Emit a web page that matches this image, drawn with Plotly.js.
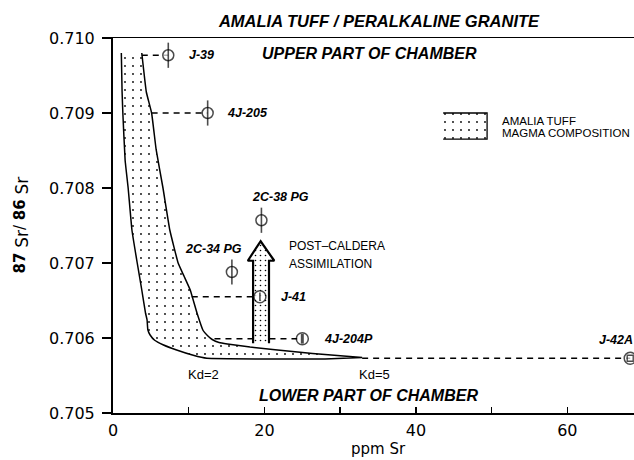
<!DOCTYPE html>
<html>
<head>
<meta charset="utf-8">
<script src="https://cdn.plot.ly/plotly-3.0.1.min.js"></script>
<style>
  html, body { margin: 0; padding: 0; background: #fff; }
  #chart { width: 634px; height: 460px; }
</style>
</head>
<body>
<div id="chart"></div>
<script>
// Amalia Tuff magma composition band: Kd=2 (lower/left) and Kd=5 (upper/right) boundaries
const kd2Sr    = [1.1, 1.2, 1.3, 1.6, 2.0, 2.5, 3.2, 3.8, 4.3, 4.5, 4.6, 4.9, 5.5, 6.6, 8.4, 10.6, 12.4, 20.0, 28.0, 32.9];
const kd2Ratio = [0.70980, 0.70928, 0.70900, 0.70837, 0.70800, 0.70744, 0.70700, 0.70664, 0.70633, 0.70624,
                  0.70611, 0.70604, 0.70597, 0.70591, 0.70584, 0.70577, 0.70573, 0.70572, 0.70572, 0.70574];
const kd5Sr    = [3.8, 4.4, 5.1, 5.7, 6.6, 7.5, 8.6, 9.4, 10.2, 11.1, 11.9, 12.5, 13.1, 14.0, 15.1, 18.1, 24.7, 28.0, 32.9];
const kd5Ratio = [0.70980, 0.70928, 0.70900, 0.70851, 0.70800, 0.70744, 0.70700, 0.70682, 0.70664, 0.70633,
                  0.70610, 0.70603, 0.70598, 0.70594, 0.70592, 0.70588, 0.70581, 0.70578, 0.70574];

// Samples
const sampleNames = ['J-39', '4J-205', '2C-38 PG', '2C-34 PG', 'J-41', '4J-204P', 'J-42A'];
const sampleSr    = [7.3, 12.5, 19.6, 15.7, 19.4, 25.0, 68.3];
const sampleRatio = [0.70977, 0.70900, 0.70757, 0.70688, 0.70655, 0.70599, 0.70573];

// Dashed tie lines: sample index and Sr where the line leaves the band
const tieSample = [0, 1, 4, 5, 6];
const tieFromSr = [3.8, 5.1, 10.4, 13.4, 32.9];

// Post-caldera assimilation arrow outline
const arrowSr    = [18.5, 18.5, 17.8, 19.5, 21.3, 20.6, 20.6];
const arrowRatio = [0.70593, 0.70703, 0.70703, 0.70729, 0.70703, 0.70703, 0.70593];

// Key swatch
const keySr    = [43.6, 49.4, 49.4, 43.6];
const keyRatio = [0.70900, 0.70900, 0.708653, 0.708653];

const yTickVals = [0.705, 0.706, 0.707, 0.708, 0.709, 0.710];

const dots = { shape: '.', size: 8, solidity: 0.04, fgcolor: '#000', bgcolor: '#fff', fillmode: 'replace' };

// band polygon: down the Kd=2 side, back up the Kd=5 side
const bandX = kd2Sr.concat(kd5Sr.slice().reverse());
const bandY = kd2Ratio.concat(kd5Ratio.slice().reverse());

const tieX = [], tieY = [];
tieSample.forEach((s, i) => {
  tieX.push(tieFromSr[i], sampleSr[s], null);
  tieY.push(sampleRatio[s], sampleRatio[s], null);
});

const traces = [
  { x: bandX, y: bandY, mode: 'lines', fill: 'toself', fillcolor: '#fff', fillpattern: dots,
    line: { color: '#000', width: 1.5, shape: 'spline', smoothing: 0.3 }, hoverinfo: 'skip', showlegend: false },
  { x: tieX, y: tieY, mode: 'lines', line: { color: '#000', width: 1.3, dash: '6px,5px' },
    hoverinfo: 'skip', showlegend: false },
  { x: arrowSr, y: arrowRatio, mode: 'lines', fill: 'toself', fillcolor: '#fff',
    fillpattern: { shape: '.', size: 5, solidity: 0.08, fgcolor: '#000', bgcolor: '#fff', fillmode: 'replace' },
    line: { color: '#000', width: 2.2 }, hoverinfo: 'skip', showlegend: false },
  { x: keySr, y: keyRatio, mode: 'lines', fill: 'toself', fillcolor: '#fff', fillpattern: dots,
    line: { color: '#000', width: 1.3 }, hoverinfo: 'skip', showlegend: false },
  { x: sampleSr, y: sampleRatio, text: sampleNames, mode: 'markers', hoverinfo: 'text',
    marker: { symbol: 'circle', size: [11, 11, 11, 11, 12, 12, 12], color: '#fff',
              line: { color: '#000', width: 1.5 } }, showlegend: false },
  { x: sampleSr, y: sampleRatio, mode: 'markers', hoverinfo: 'skip',
    marker: { symbol: ['line-ns-open', 'line-ns-open', 'line-ns-open', 'line-ns-open', 'line-ns-open', 'line-ns-open', 'square-open'],
              size: [18, 18, 18, 18, 6, 7, 6], color: '#000',
              line: { color: '#000', width: [1.6, 1.6, 1.6, 1.6, 1.6, 3, 1.4] } }, showlegend: false }
];

// sample label offsets (px) relative to each point
const labelDx = [19, 17, 19, -18, 19, 20, -14];
const labelDy = [0, 0, 23, 23, 0, 0, 18];
const labelAnchor = ['left', 'left', 'center', 'center', 'left', 'left', 'center'];

const labelFont = { family: 'Liberation Sans, Arial, sans-serif', size: 12.5, color: '#000', style: 'italic', weight: 'bold' };
const capsFont  = { family: 'Liberation Sans, Arial, sans-serif', size: 16, color: '#000', style: 'italic', weight: 'bold' };
const plainFont = { family: 'Liberation Sans, Arial, sans-serif', size: 11.5, color: '#000' };

const annotations = sampleNames.map((name, i) => ({
  x: sampleSr[i], y: sampleRatio[i], text: name, showarrow: false,
  xanchor: labelAnchor[i], yanchor: 'middle', xshift: labelDx[i], yshift: labelDy[i], font: labelFont
}));

annotations.push(
  { x: 33.9, y: 0.709787, text: 'UPPER PART OF CHAMBER', showarrow: false, font: capsFont },
  { x: 33.8, y: 0.705227, text: 'LOWER PART OF CHAMBER', showarrow: false, font: capsFont },
  { x: 11.95, y: 0.705507, text: 'Kd=2', showarrow: false, font: { family: 'Liberation Sans, Arial, sans-serif', size: 13, color: '#000' } },
  { x: 34.5, y: 0.70552, text: 'Kd=5', showarrow: false, font: { family: 'Liberation Sans, Arial, sans-serif', size: 13, color: '#000' } },
  { x: 23.0, y: 0.707227, text: 'POST\u2013CALDERA', showarrow: false, xanchor: 'left', font: { family: 'Liberation Sans, Arial, sans-serif', size: 12, color: '#000' } },
  { x: 23.0, y: 0.70699, text: 'ASSIMILATION', showarrow: false, xanchor: 'left', font: { family: 'Liberation Sans, Arial, sans-serif', size: 12, color: '#000' } },
  { x: 51.1, y: 0.708893, text: 'AMALIA TUFF', showarrow: false, xanchor: 'left', font: plainFont },
  { x: 51.1, y: 0.708733, text: 'MAGMA COMPOSITION', showarrow: false, xanchor: 'left', font: plainFont },
  { x: 0, xref: 'paper', y: 0.5, yref: 'paper', xanchor: 'center', yanchor: 'middle', xshift: -92, textangle: -90, showarrow: false,
    text: '<b>87</b> <sub><span style="font-size:17px">Sr</span></sub>/ <b>86</b> <sub><span style="font-size:17px">Sr</span></sub>',
    font: { family: 'DejaVu Sans, sans-serif', size: 15, color: '#000' } },
  { x: 35.1, y: 0, yref: 'paper', yanchor: 'middle', yshift: -35.5, showarrow: false, text: 'ppm Sr',
    font: { family: 'DejaVu Sans, sans-serif', size: 15, color: '#000' } }
);

const layout = {
  width: 634, height: 460,
  margin: { l: 113, r: 0, t: 38, b: 47, pad: 0 },
  paper_bgcolor: '#fff', plot_bgcolor: '#fff',
  title: { text: 'AMALIA TUFF / PERALKALINE GRANITE', x: 379 / 634, xanchor: 'center',
           y: 1 - 21 / 460, yanchor: 'middle', xref: 'container', yref: 'container',
           font: { family: 'Liberation Sans, Arial, sans-serif', size: 16.5, color: '#000', style: 'italic', weight: 'bold' } },
  xaxis: {
    range: [0, 68.8], tickmode: 'linear', tick0: 0, dtick: 20,
    ticks: 'inside', ticklen: 6, tickwidth: 1.5, tickcolor: '#000',
    minor: { tickmode: 'linear', tick0: 0, dtick: 10, ticks: 'inside', ticklen: 6, tickwidth: 1.5, tickcolor: '#000', showgrid: false },
    showline: true, linecolor: '#000', linewidth: 1.5, mirror: true,
    showgrid: false, zeroline: false, ticklabelstandoff: 2,
    tickfont: { family: 'DejaVu Sans, sans-serif', size: 16, color: '#000' }
  },
  yaxis: {
    range: [0.705, 0.710], tickmode: 'array', tickvals: yTickVals, tickformat: '.3f',
    ticks: 'outside', ticklen: 9, tickwidth: 1.5, tickcolor: '#000',
    showline: true, linecolor: '#000', linewidth: 2,
    showgrid: false, zeroline: false, ticklabelstandoff: 4,
    tickfont: { family: 'DejaVu Sans, sans-serif', size: 16, color: '#000' }
  },
  annotations: annotations
};

Plotly.newPlot('chart', traces, layout, { staticPlot: true, displayModeBar: false });
</script>
</body>
</html>
